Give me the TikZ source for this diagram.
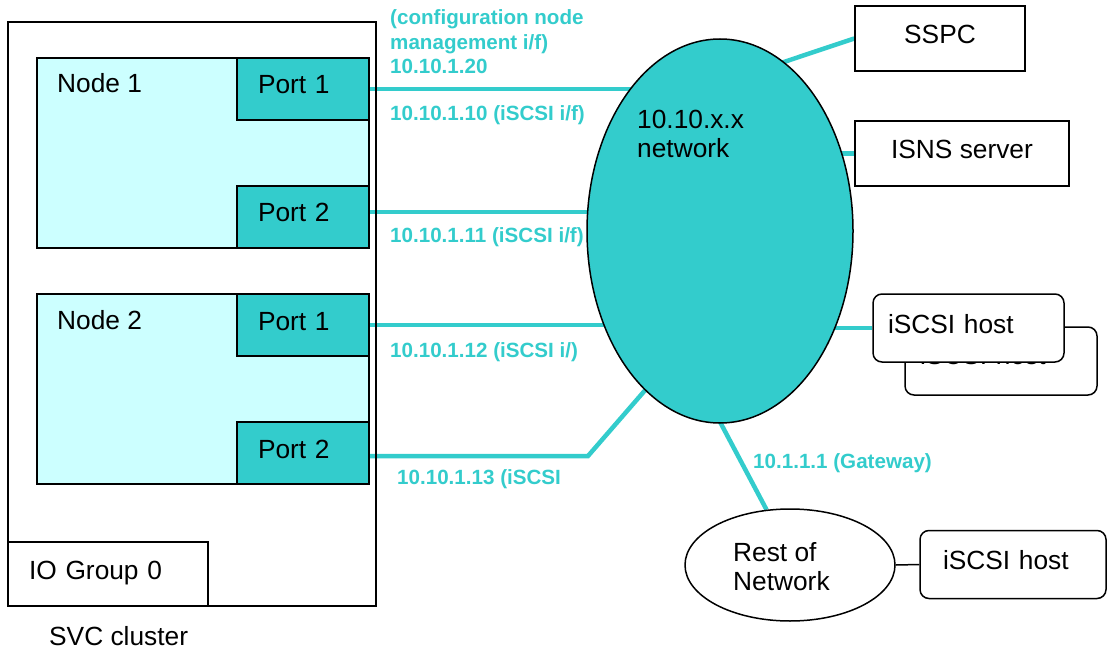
\documentclass[tikz,border=0pt]{standalone}
\usepackage{fontspec}
\setmainfont{Liberation Sans}
\usetikzlibrary{shapes.geometric, positioning, backgrounds, calc}

\definecolor{netcyan}{HTML}{33CCCC}
\definecolor{nodecyan}{HTML}{CCFFFF}

\begin{document}
\begin{tikzpicture}[x=1pt, y=-1pt,
    txt/.style={font=\fontsize{26.3}{29}\selectfont, inner sep=0pt, anchor=base west, align=left},
    addr/.style={font=\fontsize{20.6}{24.5}\selectfont\bfseries, text=netcyan, inner sep=0pt, anchor=base west, align=left},
    frame/.style={draw, line width=1.5pt},
    boxtext/.style={font=\fontsize{26.3}{29}\selectfont, text height=19pt, text depth=9pt},
    nodebox/.style={frame, fill=nodecyan, minimum width=332pt, minimum height=190pt},
    portbox/.style={frame, boxtext, fill=netcyan, anchor=#1, text width=90pt, inner xsep=21pt, inner ysep=0pt, minimum height=62pt, align=left},
    srvbox/.style={frame, boxtext, fill=white, inner sep=0pt},
    hostbox/.style={frame, boxtext, fill=white, rounded corners=9pt, minimum height=68pt, inner ysep=0pt, align=left},
    link/.style={netcyan, line width=4.5pt}]
    \useasboundingbox (0,0) rectangle (1107,652);

    % SVC cluster
    \node[frame, minimum width=368pt, minimum height=584pt] (svc) at (192,314) {};
    \node[frame, boxtext, anchor=south west, text width=158pt, inner xsep=21pt, inner ysep=0pt, minimum height=64pt, align=left] (iogrp) at (svc.south west) {IO Group 0};
    \node[txt] (svclbl) at (49,645) {SVC cluster};

    \node[nodebox] (n1) at (203,153) {};
    \node[txt] (n1lbl) at (57,93) {Node 1};
    \node[portbox=north east] (n1p1) at (n1.north east) {Port 1};
    \node[portbox=south east] (n1p2) at (n1.south east) {Port 2};

    \node[nodebox] (n2) at (203,389) {};
    \node[txt] (n2lbl) at (57,329) {Node 2};
    \node[portbox=north east] (n2p1) at (n2.north east) {Port 1};
    \node[portbox=south east] (n2p2) at (n2.south east) {Port 2};

    % 10.10.x.x network
    \node[ellipse, frame, fill=netcyan, minimum width=266pt, minimum height=384pt, inner sep=0pt] (net) at (720,231) {};
    \node[txt] (netlbl) at (637,158) {10.10.x.x\\network};

    \node[srvbox, minimum width=170pt, minimum height=65pt] (sspc) at (940,38.5) {SSPC};
    \node[srvbox, minimum width=214pt, minimum height=65pt] (isns) at (962,153.5) {ISNS server};

    \node[hostbox, text depth=13pt, text width=162pt, inner xsep=15pt] (hostbk) at (1001,361) {iSCSI host};
    \node[hostbox, text width=161pt, inner xsep=15pt] (host) at (968.5,328) {iSCSI host};

    \node[ellipse, frame, fill=white, minimum width=210pt, minimum height=112pt, inner sep=0pt] (rest) at (790,565) {};
    \node[txt] (restlbl) at (733,590) {Rest of\\Network};
    \node[hostbox, text width=140pt, inner xsep=23pt] (host2) at (1013,564.5) {iSCSI host};

    % addresses
    \node[addr] (mgmt) at (390,74) {(configuration node\\management i/f)\\10.10.1.20};
    \node[addr] (a10) at (390,121) {10.10.1.10 (iSCSI i/f)};
    \node[addr] (a11) at (390,242) {10.10.1.11 (iSCSI i/f)};
    \node[addr] (a12) at (390,357) {10.10.1.12 (iSCSI i/)};
    \node[addr] (a13) at (397,484) {10.10.1.13 (iSCSI};
    \node[addr] (gw) at (753,468) {10.1.1.1 (Gateway)};

    \coordinate (bend) at (588,456);
    \coordinate (tip) at (680,350);
    \coordinate (sspcend) at (730,80);
    \coordinate (gwend) at (710,403);

    \begin{scope}[on background layer]
        \draw[link] (n1p1.east) -- (n1p1.east -| net.center);
        \draw[link] ([yshift=5pt]n1p2.east) -- ([yshift=5pt]n1p2.east -| net.center);
        \draw[link] (n2p1.east) -- (n2p1.east -| net.center);
        \draw[link] (n2p2.east |- bend) -- (bend) -- (tip);
        \draw[link] (sspc.west) -- (sspcend);
        \draw[link] (isns.west) -- (isns.west -| net.center);
        \draw[link] (host.west) -- (host.west -| net.center);
        \draw[link] (rest.113) -- (gwend);
        \draw[line width=1.5pt] (rest.east) -- (host2.west);
    \end{scope}
\end{tikzpicture}
\end{document}
